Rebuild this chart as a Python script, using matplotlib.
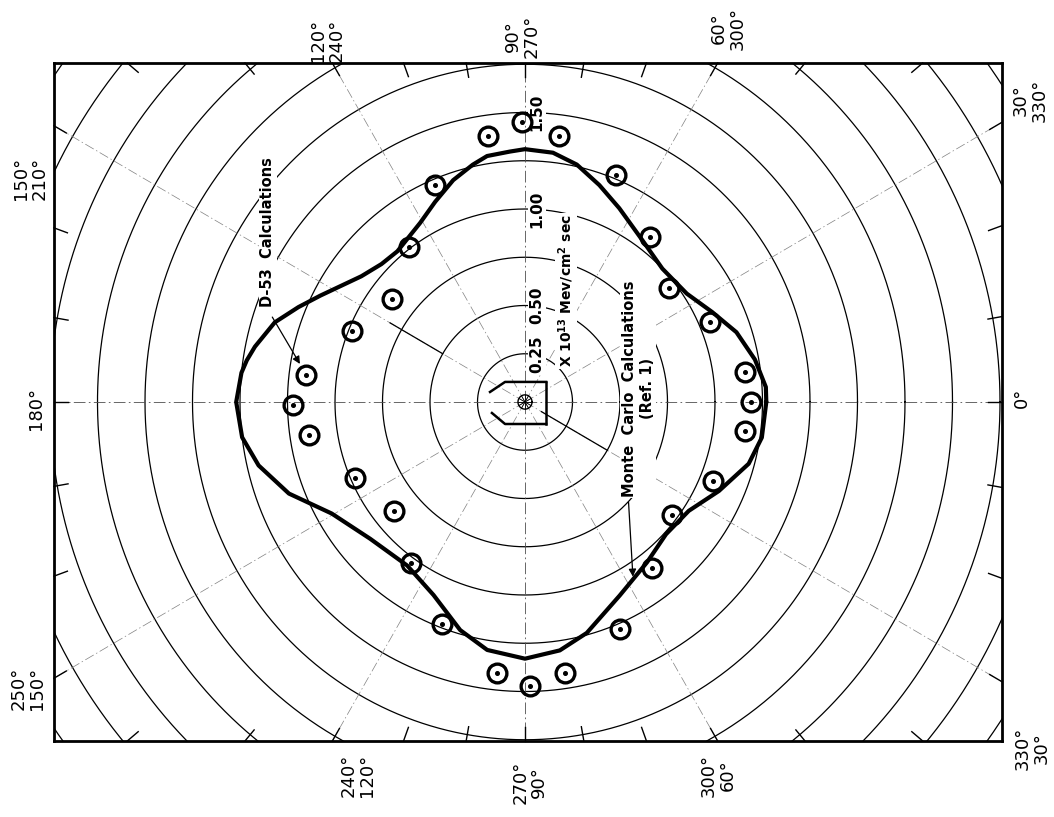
import numpy as np
import matplotlib
matplotlib.use('Agg')
import matplotlib.pyplot as plt

plt.rcParams.update({
    'font.family': ['DejaVu Sans'],
    'mathtext.default': 'regular',
    'axes.unicode_minus': False,
})

# ── 데이터: 각도(deg), flux (x 10^13 Mev/cm^2 sec)
# Monte Carlo (Ref. 1) — 굵은 실선
MC_THETA = [0, 3.5, 10.3, 18.0, 25.3, 33.4, 43.7, 53.4, 63.7, 70.8, 77.5, 83.5,
            90, 93.5, 98.9, 102.6, 108.2, 114.5, 120.7, 130.7, 136.6, 142.9,
            152.9, 157.6, 162.6, 168.6, 171.6, 174.2, 180, 187, 193.2, 200.9,
            209.6, 221, 233.8, 244.3, 253.9, 261.2, 270, 278.1, 285.2, 296.4,
            307.7, 317.3, 326.8, 335.7, 344.8, 351.6, 360]
MC_FLUX = [1.27, 1.27, 1.23, 1.17, 1.09, 1.02, 1.00, 1.04, 1.12, 1.19, 1.26, 1.30,
           1.31, 1.30, 1.29, 1.26, 1.21, 1.14, 1.08, 1.03, 1.04, 1.08,
           1.21, 1.29, 1.38, 1.45, 1.48, 1.50, 1.52, 1.50, 1.44, 1.33,
           1.17, 1.08, 1.05, 1.11, 1.23, 1.30, 1.33, 1.30, 1.24, 1.12,
           1.05, 1.01, 1.03, 1.12, 1.22, 1.26, 1.27]

# D-53 Calculations — 원 마커
D53_THETA = [0, 7.7, -7.4, 23, -22.4, 37.9, -37.1, 52.5, -52.2, 67.8, -66.9,
             82.7, -81.5, 90.6, 98, 112.8, 127.2, 142.7, 158, 173, 180.7,
             188.6, 203.8, 219.2, 234.3, 249.2, 264, 271]
D53_FLUX = [1.19, 1.17, 1.17, 1.06, 1.07, 0.96, 0.97, 1.08, 1.09, 1.27, 1.28,
            1.39, 1.42, 1.45, 1.39, 1.22, 1.01, 0.88, 0.98, 1.16, 1.22,
            1.15, 0.98, 0.89, 1.03, 1.23, 1.41, 1.47]

RINGS = [0.25, 0.50, 0.75, 1.00, 1.25, 1.50, 1.75, 2.00, 2.25, 2.50, 2.75, 3.00]
RING_LABELS = ['0.25', '0.50', '1.00', '1.50']
RING_LABEL_R = [0.25, 0.50, 1.00, 1.50]
SPOKES = [0, 30, 60, 90, 120, 150, 180, 210, 240, 270, 300, 330]
TICKS = list(range(0, 360, 10))

ANGLE_TEXT = ['150°\n210°', '180°', '250°\n150°',
              '120°\n240°', '90°\n270°', '60°\n300°', '30°\n330°',
              '0°', '330°\n30°',
              '240°\n120°', '270°\n90°', '300°\n60°']
# 라벨 위치 (원본 픽셀 좌표)
ANGLE_POS = [(30, 178), (36, 408), (28, 688),
             (327, 40), (522, 36), (728, 28), (1030, 100),
             (1022, 398), (1032, 748),
             (358, 775), (530, 782), (718, 775)]

W, H = 1054, 817
L_PX, R_PX, T_PX, B_PX = 54, 1002, 63, 741
CX, CY = 525, 402
SX, SY = 190.0, 193.0
X0, X1 = -(CX - L_PX) / SX, (R_PX - CX) / SX
Y0, Y1 = -(B_PX - CY) / SY, (CY - T_PX) / SY

fig = plt.figure(figsize=(W / 100, H / 100), dpi=100)
ax = fig.add_axes([L_PX / W, 1 - B_PX / H, (R_PX - L_PX) / W, (B_PX - T_PX) / H])
ax.set_xlim(X0, X1)
ax.set_ylim(Y0, Y1)
ax.set_xticks([])
ax.set_yticks([])
for sp in ax.spines.values():
    sp.set_linewidth(2.0)


def edge_t(deg):
    th = np.deg2rad(deg)
    c, s = np.cos(th), np.sin(th)
    ts = []
    if abs(c) > 1e-9:
        ts.append((X1 if c > 0 else X0) / c)
    if abs(s) > 1e-9:
        ts.append((Y1 if s > 0 else Y0) / s)
    return min(ts)


def xy(deg, r):
    th = np.deg2rad(np.asarray(deg, dtype=float))
    r = np.asarray(r, dtype=float)
    return r * np.cos(th), r * np.sin(th)


# 동심원
phi = np.linspace(0, 360, 1441)
for r in RINGS:
    ax.plot(*xy(phi, np.full_like(phi, r)), color='k', lw=0.9, zorder=1)

# 30도 간격 일점쇄선 (축선은 조금 진하게)
for d in SPOKES:
    t = edge_t(d)
    main = d % 90 == 0
    ax.plot(*xy([d, d], [0, t]), color='0.3' if main else '0.5',
            lw=0.6 if main else 0.5,
            ls=(0, (14, 4, 2, 4)), zorder=1)

# 외곽 10도 눈금
for d in TICKS:
    t = edge_t(d)
    ax.plot(*xy([d, d], [t - 0.075, t]), color='k', lw=1.0, zorder=2,
            clip_on=False)

# 실선 구간
ax.plot(*xy([150, 150], [0.5, 0.82]), color='k', lw=0.9, zorder=2)
ax.plot(*xy([330, 330], [0.1, 0.5]), color='k', lw=0.9, zorder=2)

# 검출기 모식도
DET_TOP_X = [0.111, -0.105, -0.184]
DET_TOP_Y = [0.104, 0.104, 0.052]
DET_BOT_X = [0.111, -0.105, -0.174]
DET_BOT_Y = [-0.114, -0.114, -0.057]
ax.plot(DET_TOP_X, DET_TOP_Y, color='k', lw=1.8, zorder=3)
ax.plot(DET_BOT_X, DET_BOT_Y, color='k', lw=1.8, zorder=3)
ax.plot([0.111, 0.111], [0.104, -0.114], color='k', lw=1.8, zorder=3)
ax.plot(*xy(phi, np.full_like(phi, 0.037)), color='k', lw=1.0, zorder=3)
for d in range(0, 360, 30):
    ax.plot(*xy([d, d], [0, 0.035]), color='k', lw=0.6, zorder=3)

# Monte Carlo 곡선
ax.plot(*xy(MC_THETA, MC_FLUX), color='k', lw=3.0, zorder=4,
        solid_joinstyle='round', solid_capstyle='round')

# D-53 마커
mx, my = xy(D53_THETA, D53_FLUX)
ax.plot(mx, my, 'o', ms=13.5, mfc='none', mec='k', mew=2.4, zorder=5)
ax.plot(mx, my, 'o', ms=2.6, color='k', zorder=5)

# 반경 라벨
box = dict(boxstyle='square,pad=0.1', fc='white', ec='none')
for lab, r in zip(RING_LABELS, RING_LABEL_R):
    ax.text(0.063, r, lab, rotation=90, ha='center', va='center',
            fontsize=11, fontweight='bold', bbox=box, zorder=3)

ax.text(0.216, 0.575, r'X $10^{13}$ Mev/cm$^{2}$ sec', rotation=90,
        ha='center', va='center', fontsize=10, fontweight='bold',
        bbox=box, zorder=3)
ax.text(0.595, 0.07, 'Monte  Carlo  Calculations\n(Ref. 1)', rotation=90,
        ha='center', va='center', multialignment='center', linespacing=1.25,
        fontsize=10.5, fontweight='bold', bbox=box, zorder=3)
ax.text(-1.353, 0.881, 'D-53  Calculations', rotation=90,
        ha='center', va='center', fontsize=10.5, fontweight='bold',
        bbox=box, zorder=3)

# 지시선
ax.annotate('', xy=(0.568, -0.905), xytext=(0.545, -0.52),
            arrowprops=dict(arrowstyle='-|>', color='k', lw=0.9,
                            mutation_scale=11, shrinkA=0, shrinkB=0),
            zorder=6)
ax.annotate('', xy=(mx[19], my[19]), xytext=(-1.33, 0.44),
            arrowprops=dict(arrowstyle='-|>', color='k', lw=0.9,
                            mutation_scale=11, shrinkA=0, shrinkB=9),
            zorder=6)

# 각도 라벨
for lab, (px, py) in zip(ANGLE_TEXT, ANGLE_POS):
    fig.text(px / W, 1 - py / H, lab, rotation=90, ha='center', va='center',
             multialignment='center', linespacing=1.05, fontsize=13)

fig.savefig('out.png', dpi=100)
plt.close(fig)
